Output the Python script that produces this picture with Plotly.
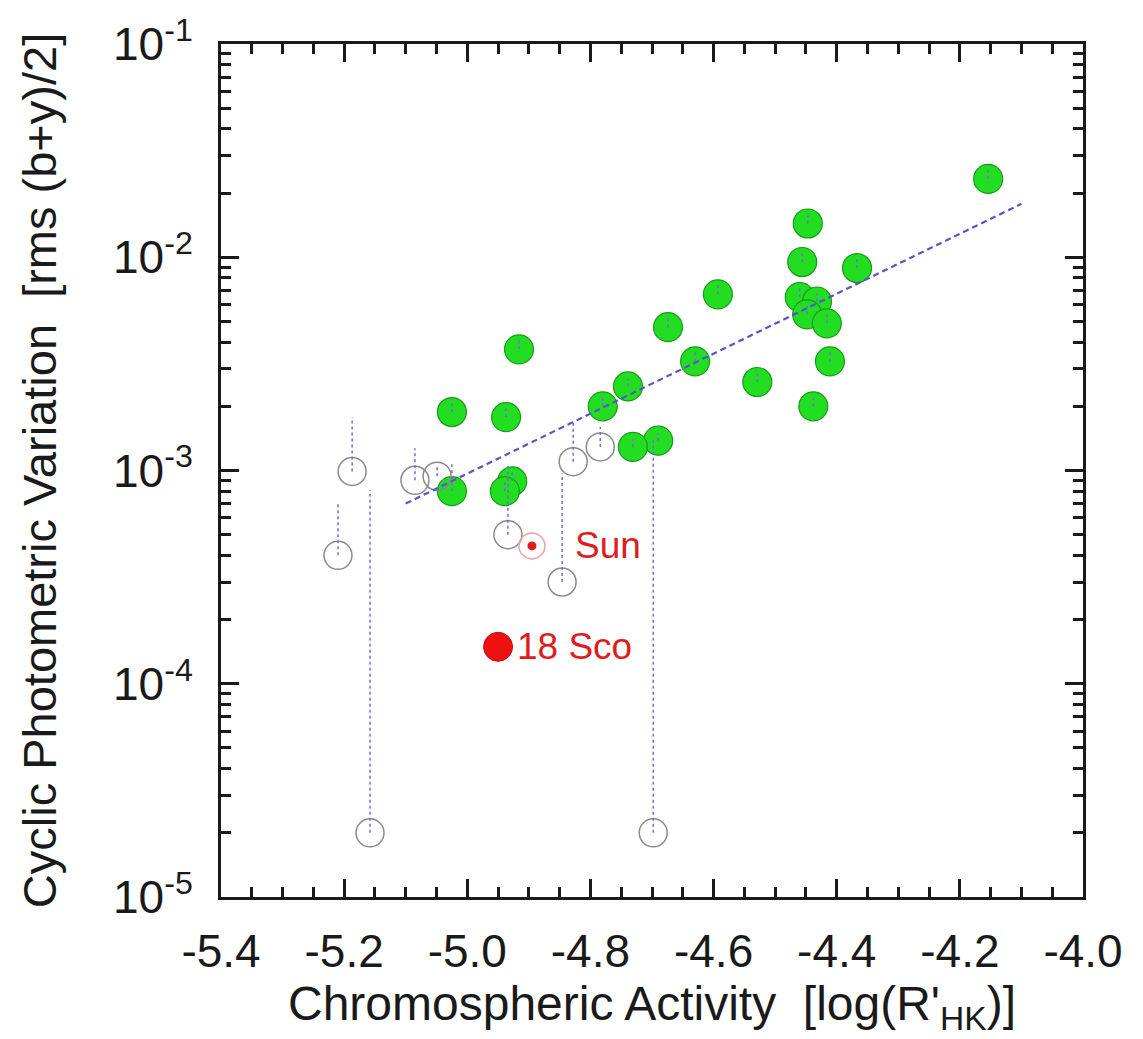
import math
import plotly.graph_objects as go

# ---- data ----
# Stars with detected cyclic variation (filled green)
act_det = [-4.154, -4.447, -4.456, -4.367, -4.460, -4.432, -4.448, -4.416,
           -4.593, -4.674, -4.630, -4.411, -4.529, -4.438, -4.739, -4.780,
           -4.690, -4.731, -4.916, -5.025, -4.937, -4.927, -4.939, -5.025]
var_det = [0.0233, 0.0144, 0.0095, 0.0089, 0.0065, 0.0062, 0.0054, 0.0049,
           0.0067, 0.0047, 0.00325, 0.00325, 0.0026, 0.0020, 0.00248, 0.0020,
           0.00138, 0.00129, 0.0037, 0.00188, 0.00178, 0.00089, 0.00080, 0.00080]
var_det_top = [0.0256, 0.0158, 0.0104, 0.0098, 0.0072, 0.0068, 0.0059, 0.0054,
               0.0074, 0.0052, 0.0036, 0.0036, 0.0029, 0.0022, 0.0027, 0.0022,
               0.0015, 0.0014, 0.0041, 0.0021, 0.0020, 0.00098, 0.00088, 0.00110]

# Stars without a clear detection (open circles)
act_lim = [-5.187, -5.210, -5.085, -5.049, -4.934, -4.846, -4.828, -4.784, -5.158, -4.698]
var_lim = [0.00099, 0.00040, 0.00090, 0.00094, 0.00050, 0.00030, 0.00110, 0.00129, 0.00002, 0.00002]
var_lim_top = [0.00178, 0.00070, 0.00127, 0.00105, 0.00108, 0.00097, 0.00171, 0.00160, 0.00081, 0.00140]

# Sun and 18 Sco
sun_act, sun_var = [-4.895], [0.000443]
sco_act, sco_var = [-4.950], [0.000149]

# Fit line end points
fit_act = [-5.10, -4.10]
fit_var = [0.00070, 0.0178]

x_ticks = [-5.4, -5.2, -5.0, -4.8, -4.6, -4.4, -4.2, -4.0]
x_tick_text = ["-5.4", "-5.2", "-5.0", "-4.8", "-4.6", "-4.4", "-4.2", "-4.0"]
y_ticks = [1e-5, 1e-4, 1e-3, 1e-2, 1e-1]
y_tick_text = ["10<sup>-5</sup>", "10<sup>-4</sup>", "10<sup>-3</sup>", "10<sup>-2</sup>", "10<sup>-1</sup>"]
y_minor = [k * 10.0 ** e for e in range(-5, -1) for k in range(2, 10)]

FONT = "Liberation Sans, Arial, Helvetica, sans-serif"
RED = "#e01c1c"
INK = "#1a1a1a"

def segs(xs, lo, hi):
    X, Y = [], []
    for a, b, c in zip(xs, lo, hi):
        X += [a, a, None]
        Y += [b, c, None]
    return X, Y

fig = go.Figure()

fig.add_trace(go.Scatter(
    x=act_det, y=var_det, mode="markers",
    marker=dict(size=29, color="#22dd22", line=dict(color="#189c18", width=1.2)),
    hoverinfo="skip", showlegend=False))

fig.add_trace(go.Scatter(
    x=act_lim, y=var_lim, mode="markers",
    marker=dict(size=28, color="rgba(0,0,0,0)", line=dict(color="#8a8a8a", width=1.5)),
    hoverinfo="skip", showlegend=False))

lx, ly = segs(act_lim, var_lim, var_lim_top)
dx, dy = segs(act_det, var_det, var_det_top)
fig.add_trace(go.Scatter(
    x=lx + dx, y=ly + dy, mode="lines",
    line=dict(color="#6e6ed6", width=1.5, dash="dot"),
    hoverinfo="skip", showlegend=False))

fig.add_trace(go.Scatter(
    x=fit_act, y=fit_var, mode="lines",
    line=dict(color="#5a50d0", width=2.2, dash="6px,4px"),
    hoverinfo="skip", showlegend=False))

fig.add_trace(go.Scatter(
    x=sun_act, y=sun_var, mode="markers",
    marker=dict(size=26, color="rgba(0,0,0,0)", line=dict(color="#f0a0a0", width=1.5)),
    hoverinfo="skip", showlegend=False))
fig.add_trace(go.Scatter(
    x=sun_act, y=sun_var, mode="markers",
    marker=dict(size=9, color=RED, line=dict(width=0)),
    hoverinfo="skip", showlegend=False))

fig.add_trace(go.Scatter(
    x=sco_act, y=sco_var, mode="markers",
    marker=dict(size=29, color="#ee1111", line=dict(color="#c01010", width=1)),
    hoverinfo="skip", showlegend=False))

# annotations on a log axis take log10 positions
fig.add_annotation(x=sun_act[0], y=math.log10(sun_var[0]), yref="y", xref="x", text="Sun",
                   showarrow=False, xanchor="left", yanchor="middle", xshift=41,
                   font=dict(family=FONT, size=37, color=RED))
fig.add_annotation(x=sco_act[0], y=math.log10(sco_var[0]), yref="y", xref="x", text="18 Sco",
                   showarrow=False, xanchor="left", yanchor="middle", xshift=17,
                   font=dict(family=FONT, size=37, color=RED))

axis_common = dict(
    showline=True, linewidth=3, linecolor=INK, mirror="allticks",
    ticks="inside", ticklen=18, tickwidth=2.5, tickcolor=INK,
    showgrid=False, zeroline=False,
    tickfont=dict(family=FONT, size=46, color=INK),
)

fig.update_xaxes(
    **axis_common,
    range=[-5.4, -4.0], tickmode="array", tickvals=x_ticks, ticktext=x_tick_text,
    minor=dict(ticks="inside", ticklen=10, tickwidth=2.5, tickcolor=INK,
               dtick=0.05, tick0=-5.4, showgrid=False),
    ticklabelstandoff=12,
    title=dict(text="Chromospheric Activity\u00a0\u00a0[log(R'<sub>HK</sub>)]",
               font=dict(family=FONT, size=48, color=INK), standoff=6),
)
fig.update_yaxes(
    **axis_common,
    type="log", range=[-5, -1], tickmode="array", tickvals=y_ticks, ticktext=y_tick_text,
    minor=dict(ticks="inside", ticklen=10, tickwidth=2.5, tickcolor=INK,
               tickmode="array", tickvals=y_minor, showgrid=False),
    ticklabelstandoff=16,
    title=dict(text="Cyclic Photometric Variation\u00a0\u00a0[rms (b+y)/2]",
               font=dict(family=FONT, size=47, color=INK), standoff=42),
)

fig.update_layout(
    width=1143, height=1039, autosize=False,
    margin=dict(l=221, r=60, t=37, b=142),
    paper_bgcolor="white", plot_bgcolor="white",
    showlegend=False,
)

fig.write_html("out.html")
